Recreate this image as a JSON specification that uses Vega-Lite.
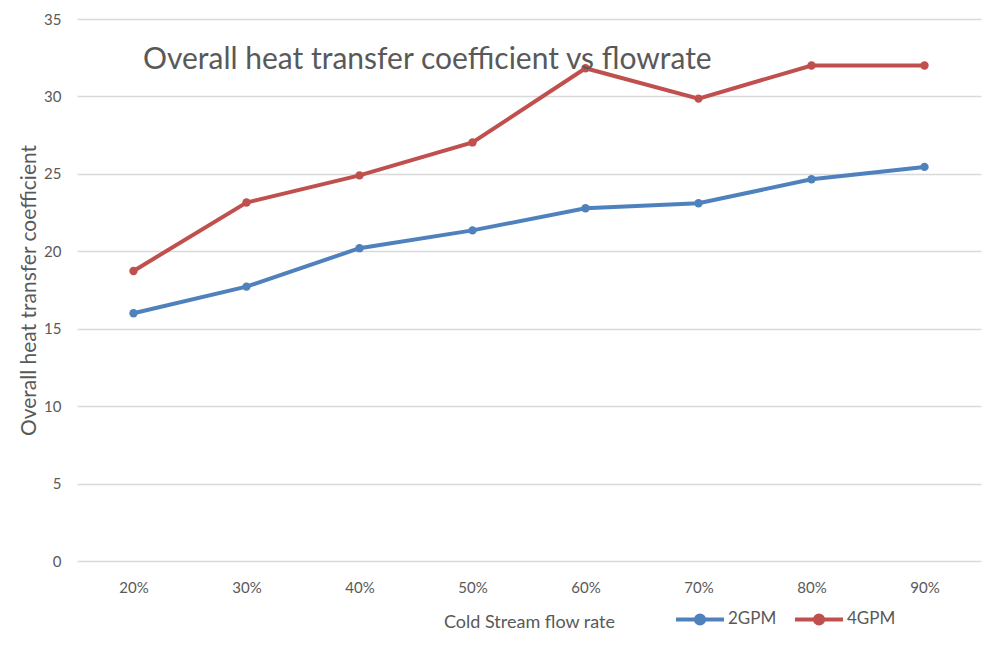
{
  "$schema": "https://vega.github.io/schema/vega-lite/v6.json",
  "width": 904,
  "height": 542,
  "autosize": {"type": "none"},
  "padding": {"left": 77, "top": 19, "right": 12, "bottom": 86},
  "background": "white",
  "title": {
    "text": "Overall heat transfer coefficient vs flowrate",
    "anchor": "start",
    "frame": "group",
    "orient": "top",
    "offset": 0,
    "dx": 66,
    "dy": 87,
    "baseline": "alphabetic",
    "fontSize": 30,
    "fontWeight": "normal",
    "color": "#595959",
    "font": "Lato"
  },
  "data": {
    "values": [
      {"rate": "20%", "series": "2GPM", "value": 16.0},
      {"rate": "30%", "series": "2GPM", "value": 17.72},
      {"rate": "40%", "series": "2GPM", "value": 20.2},
      {"rate": "50%", "series": "2GPM", "value": 21.35},
      {"rate": "60%", "series": "2GPM", "value": 22.78},
      {"rate": "70%", "series": "2GPM", "value": 23.1},
      {"rate": "80%", "series": "2GPM", "value": 24.65},
      {"rate": "90%", "series": "2GPM", "value": 25.45},
      {"rate": "20%", "series": "4GPM", "value": 18.73},
      {"rate": "30%", "series": "4GPM", "value": 23.15},
      {"rate": "40%", "series": "4GPM", "value": 24.9},
      {"rate": "50%", "series": "4GPM", "value": 27.03},
      {"rate": "60%", "series": "4GPM", "value": 31.82},
      {"rate": "70%", "series": "4GPM", "value": 29.86},
      {"rate": "80%", "series": "4GPM", "value": 32.0},
      {"rate": "90%", "series": "4GPM", "value": 32.0}
    ]
  },
  "mark": {"type": "line", "strokeWidth": 4, "point": {"filled": true, "size": 70}},
  "encoding": {
    "x": {
      "field": "rate",
      "type": "ordinal",
      "sort": null,
      "scale": {"padding": 0.5},
      "axis": {
        "title": "Cold Stream  flow rate",
        "labelAngle": 0,
        "grid": false,
        "domain": false,
        "ticks": false,
        "labelPadding": 19,
        "labelFontSize": 15,
        "labelColor": "#595959",
        "titleFontSize": 18,
        "titleFontWeight": "normal",
        "titleColor": "#595959",
        "titlePadding": 18
      }
    },
    "y": {
      "field": "value",
      "type": "quantitative",
      "scale": {"domain": [0, 35], "nice": false},
      "axis": {
        "title": "Overall heat transfer coefficient",
        "values": [0, 5, 10, 15, 20, 25, 30, 35],
        "grid": true,
        "gridColor": "#d9d9d9",
        "gridWidth": 1.5,
        "domain": false,
        "ticks": false,
        "labelPadding": 16,
        "labelFontSize": 15,
        "labelColor": "#595959",
        "titleFontSize": 21,
        "titleFontWeight": "normal",
        "titleColor": "#595959",
        "titlePadding": 4
      }
    },
    "color": {
      "field": "series",
      "type": "nominal",
      "scale": {"domain": ["2GPM", "4GPM"], "range": ["#4F81BD", "#C0504D"]},
      "legend": {
        "title": null,
        "orient": "none",
        "direction": "horizontal",
        "legendX": 597,
        "legendY": 574,
        "symbolType": "M-1,0L1,0M-0.17,0A0.17,0.17,0,1,1,0.17,0A0.17,0.17,0,1,1,-0.17,0Z",
        "symbolSize": 2304,
        "symbolStrokeWidth": 4,
        "labelFontSize": 17,
        "labelColor": "#595959",
        "labelOffset": 2,
        "columnPadding": 10
      }
    }
  },
  "config": {"view": {"stroke": null}, "font": "Lato"}
}
